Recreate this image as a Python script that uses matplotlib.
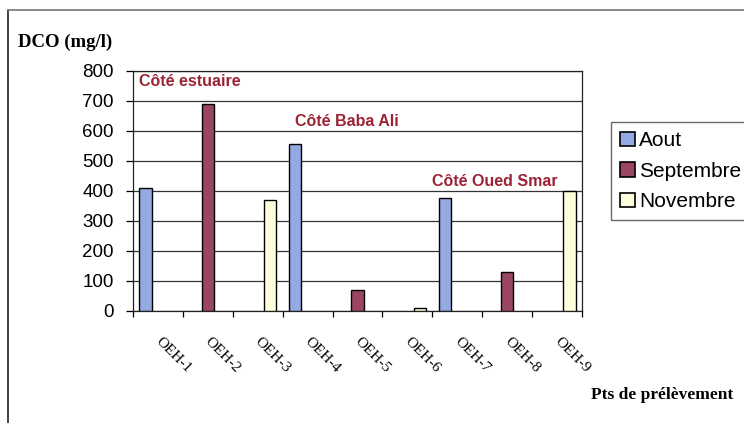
import numpy as np
import matplotlib
matplotlib.use('Agg')
import matplotlib.pyplot as plt
from matplotlib.lines import Line2D
import matplotlib.transforms as mtransforms

points = ['OEH-1', 'OEH-2', 'OEH-3', 'OEH-4', 'OEH-5', 'OEH-6', 'OEH-7', 'OEH-8', 'OEH-9']
aout = [410, 0, 0, 555, 0, 0, 375, 0, 0]
septembre = [0, 690, 0, 0, 70, 0, 0, 130, 0]
novembre = [0, 0, 370, 0, 0, 10, 0, 0, 400]
yticks = [0, 100, 200, 300, 400, 500, 600, 700, 800]

fig = plt.figure(figsize=(7.44, 4.23), dpi=100)
ax = fig.add_axes([0.1788, 0.2648, 0.6035, 0.5674])

x = np.arange(len(points))
w = 0.25
series = [(aout, '#95a9e2', 'Aout'), (septembre, '#9b4660', 'Septembre'), (novembre, '#ffffdc', 'Novembre')]
for i, (vals, col, lab) in enumerate(series):
    v = np.array(vals, dtype=float)
    xs = x + (i - 1) * w
    mask = v > 0
    ax.bar(xs[mask], v[mask], w, color=col, edgecolor='black', linewidth=1.0, zorder=3)

ax.set_xlim(-0.5, len(points) - 0.5)
ax.set_ylim(0, 800)
ax.set_yticks(yticks)
ax.set_yticklabels([str(t) for t in yticks], fontfamily='Liberation Sans', fontsize=13.5)
ax.yaxis.grid(True, color='#333333', linewidth=0.9, zorder=0)
ax.tick_params(axis='y', length=5, width=0.9, pad=9)

ax.set_xticks(x)
ax.set_xticklabels(points, rotation=-45, ha='left', va='top', rotation_mode='anchor',
                   fontfamily='Liberation Serif', fontsize=11)
ax.tick_params(axis='x', which='major', length=0, pad=17)
shift = mtransforms.ScaledTranslation(4 / 100, 0, fig.dpi_scale_trans)
for lbl in ax.get_xticklabels():
    lbl.set_transform(lbl.get_transform() + shift)
ax.set_xticks(np.arange(-0.5, len(points)), minor=True)
ax.tick_params(axis='x', which='minor', length=4, width=0.9)
for s in ax.spines.values():
    s.set_linewidth(0.9)
    s.set_color('#222222')

red = '#9b2335'
ax.text(-0.38, 765, 'Côté estuaire', color=red, fontweight='bold', fontsize=11.5,
        fontfamily='Liberation Sans', va='center', ha='left', zorder=4)
ax.text(2.75, 633, 'Côté Baba Ali', color=red, fontweight='bold', fontsize=11.5,
        fontfamily='Liberation Sans', va='center', ha='left', zorder=4)
ax.text(5.49, 433, 'Côté Oued Smar', color=red, fontweight='bold', fontsize=11.5,
        fontfamily='Liberation Sans', va='center', ha='left', zorder=4,
        bbox=dict(facecolor='white', edgecolor='none', pad=1))

fig.text(0.024, 0.9, 'DCO (mg/l)', fontfamily='Liberation Serif', fontweight='bold', fontsize=13.5,
         va='center', ha='left')
fig.text(0.985, 0.066, 'Pts de prélèvement', fontfamily='Liberation Serif', fontweight='bold',
         fontsize=12.5, va='center', ha='right')

handles = [plt.Rectangle((0, 0), 1, 1, facecolor=c, edgecolor='black', linewidth=1.2) for _, c, _ in series]
leg = fig.legend(handles, [l for _, _, l in series], loc='upper left', bbox_to_anchor=(0.821, 0.712),
                 prop={'family': 'Liberation Sans', 'size': 15}, frameon=True, fancybox=False,
                 handlelength=0.7, handleheight=0.7, handletextpad=0.2, labelspacing=0.55,
                 borderpad=0.45, borderaxespad=0)
leg.get_frame().set_edgecolor('#444444')
leg.get_frame().set_linewidth(1.0)

# chart frame (left and top edges visible)
fig.add_artist(Line2D([0.011, 0.011], [0.0, 0.977], color='#222222', linewidth=1.2))
fig.add_artist(Line2D([0.011, 1.0], [0.977, 0.977], color='#777777', linewidth=1.2))

fig.savefig('out.png', dpi=100)
